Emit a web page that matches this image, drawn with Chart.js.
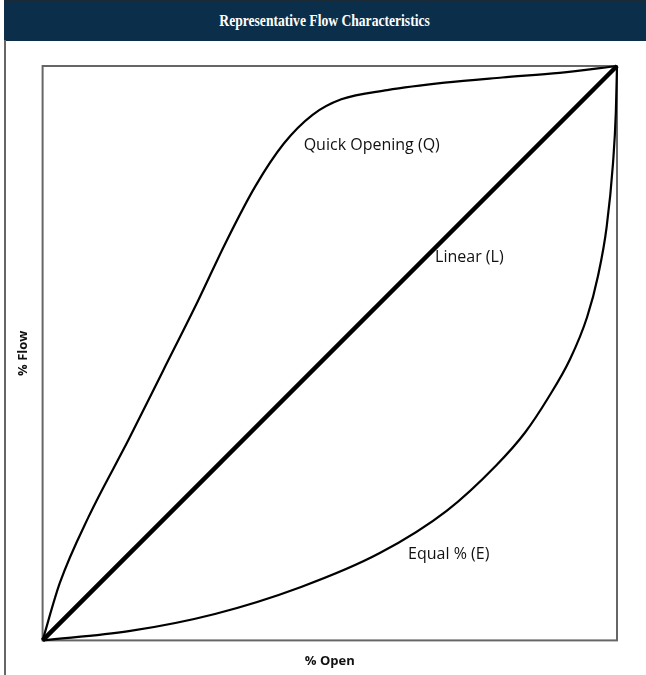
<!DOCTYPE html>
<html>
<head>
<meta charset="utf-8">
<script src="https://cdn.jsdelivr.net/npm/chart.js@4.4.1/dist/chart.umd.min.js"></script>
<style>
  body { margin: 0; background: #fff; }
  #wrap { position: relative; width: 646px; height: 675px; overflow: hidden; }
  #title {
    position: absolute; left: 4px; top: 0; width: 642px; height: 40px;
    background: #0b2f4a; border-top: 1px solid #1a2a36;
    color: #fff; text-align: center; line-height: 40px;
  }
  #title span {
    display: inline-block; font: bold 17px "Liberation Serif", serif;
    transform: scaleX(0.8); white-space: nowrap;
  }
  #leftLine { position: absolute; left: 4px; top: 40px; width: 2px; height: 635px; background: #666; }
  #box { position: absolute; left: 6px; top: 41px; width: 640px; height: 634px; }
</style>
</head>
<body>
<div id="wrap">
  <div id="title"><span>Representative Flow Characteristics</span></div>
  <div id="leftLine"></div>
  <div id="box"><canvas id="flowChart"></canvas></div>
</div>
<script>
// % open vs % flow
const quickOpen = [0, 3, 8, 15, 21, 27, 32, 37, 42, 47, 52, 60, 70, 80, 90, 100];
const quickFlow = [0, 10, 21.5, 35, 47, 59, 69.5, 79, 86.5, 91.5, 94.2, 95.8, 97.1, 98, 98.8, 100];

const linearOpen = [0, 100];
const linearFlow = [0, 100];

const equalOpen = [0, 15, 30, 45, 58.7, 70.4, 79, 84, 88, 91.8, 94.8, 96.7, 98.2, 99.3, 99.8, 100];
const equalFlow = [0, 1.6, 4.6, 9.3, 15.2, 22.6, 30.5, 36.2, 42.2, 48.9, 56.3, 63.5, 72, 83, 92, 100];

// curve labels, placed in data units
const labelText = ['Quick Opening (Q)', 'Linear (L)', 'Equal % (E)'];
const labelX = [57.3, 74.3, 70.7];
const labelY = [86.2, 66.7, 15.0];

function pts(xs, ys) {
  return xs.map((x, i) => ({ x: x, y: ys[i] }));
}

const frame = {
  id: 'frame',
  beforeDatasetsDraw(chart) {
    const a = chart.chartArea;
    const ctx = chart.ctx;
    ctx.save();
    ctx.strokeStyle = '#666';
    ctx.lineWidth = 2;
    ctx.strokeRect(a.left, a.top, a.right - a.left, a.bottom - a.top);
    ctx.restore();
  },
  afterDatasetsDraw(chart) {
    const ctx = chart.ctx;
    const xs = chart.scales.x, ys = chart.scales.y;
    ctx.save();
    ctx.fillStyle = '#111';
    ctx.font = '16px "Open Sans", sans-serif';
    ctx.textAlign = 'center';
    ctx.textBaseline = 'middle';
    labelText.forEach((t, i) => {
      ctx.fillText(t, xs.getPixelForValue(labelX[i]), ys.getPixelForValue(labelY[i]));
    });
    ctx.restore();
  }
};

const flowChart = new Chart(document.getElementById('flowChart'), {
  type: 'scatter',
  data: {
    datasets: [
      { label: 'Quick Opening (Q)', data: pts(quickOpen, quickFlow), borderColor: '#000', borderWidth: 2.2, cubicInterpolationMode: 'monotone' },
      { label: 'Linear (L)', data: pts(linearOpen, linearFlow), borderColor: '#000', borderWidth: 4.5 },
      { label: 'Equal % (E)', data: pts(equalOpen, equalFlow), borderColor: '#000', borderWidth: 2.2, cubicInterpolationMode: 'monotone' }
    ]
  },
  options: {
    responsive: true,
    maintainAspectRatio: false,
    animation: false,
    showLine: true,
    pointRadius: 0,
    clip: false,
    layout: { padding: { left: 9, top: 25, right: 29, bottom: 6 } },
    plugins: {
      legend: { display: false },
      tooltip: { enabled: false }
    },
    scales: {
      x: {
        min: 0, max: 100,
        ticks: { display: false },
        grid: { display: false, drawTicks: false },
        border: { display: false },
        title: { display: true, text: '% Open', color: '#111', font: { family: 'Open Sans', size: 13, weight: 'bold' }, padding: { top: 13, bottom: 0 } }
      },
      y: {
        min: 0, max: 100,
        ticks: { display: false },
        grid: { display: false, drawTicks: false },
        border: { display: false },
        title: { display: true, text: '% Flow', color: '#111', font: { family: 'Open Sans', size: 13, weight: 'bold' }, padding: { top: 0, bottom: 12 } }
      }
    }
  },
  plugins: [frame]
});
</script>
</body>
</html>
